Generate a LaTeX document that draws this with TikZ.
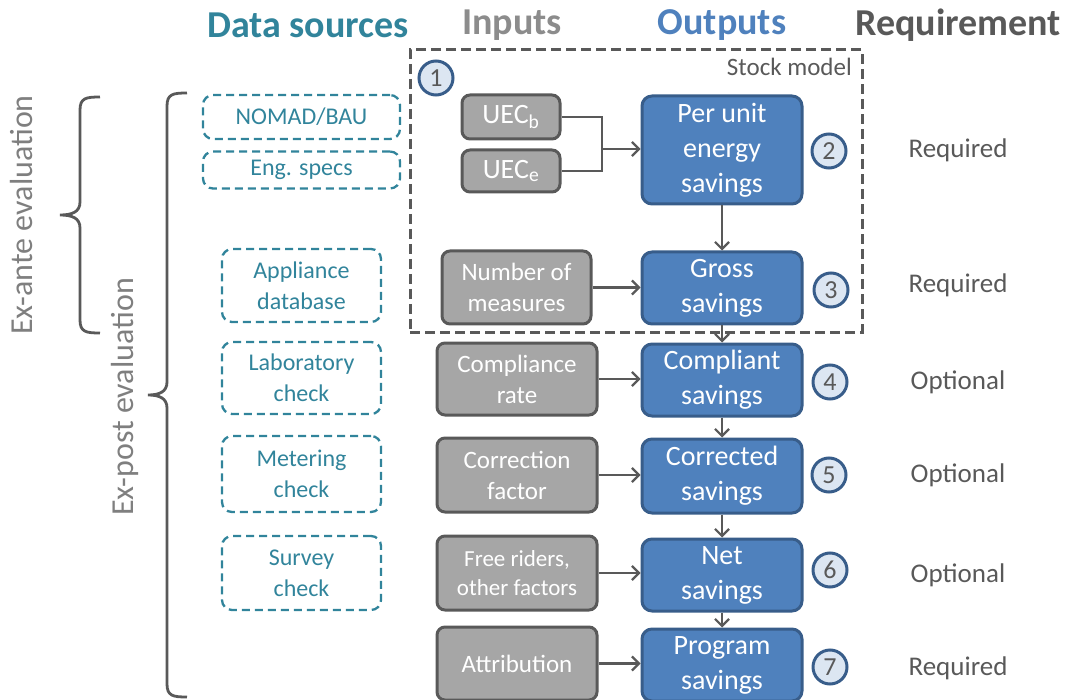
\documentclass[tikz,border=0pt]{standalone}
\usepackage{fontspec}
\setmainfont{Carlito}
\usetikzlibrary{arrows.meta}
\definecolor{teal1}{HTML}{31849B}
\definecolor{blue1}{HTML}{4F81BD}
\definecolor{blueb}{HTML}{385D8A}
\definecolor{grayf}{HTML}{A6A6A6}
\definecolor{grayd}{HTML}{595959}
\definecolor{grayt}{HTML}{7F7F7F}
\definecolor{grayh}{HTML}{8C8C8C}
\definecolor{circf}{HTML}{DCE6F2}
\newcommand{\fs}[2]{\fontsize{#1}{#2}\selectfont}
\tikzset{
  gbox/.style={draw=grayd, fill=grayf, line width=3pt, rounded corners=8pt, text=white, align=center, inner sep=2pt, font=\fs{25}{31}},
  bbox/.style={draw=blueb, fill=blue1, line width=3pt, rounded corners=10pt, text=white, align=center, inner sep=2pt, minimum width=160pt, font=\fs{28}{35}},
  dsbox/.style={draw=teal1, dash pattern=on 8pt off 5pt, line width=2.3pt, rounded corners=10pt, text=teal1, align=center, inner sep=2pt, font=\fs{24}{31}},
  numc/.style={circle, draw=blueb, fill=circf, line width=3pt, minimum size=34pt, inner sep=0pt, text=grayd, font=\fs{26}{26}},
  req/.style={text=grayd, font=\fs{27}{30}},
  hdr/.style={font=\bfseries\fs{38}{42}},
  arr/.style={draw=grayd, line width=2.2pt, -{Straight Barb[length=7pt,width=14pt,line width=2.2pt]}},
  ln/.style={draw=grayd, line width=2.2pt},
  brace/.style={draw=grayd, line width=2.8pt},
  side/.style={text=grayt, rotate=90, font=\fs{32}{36}}
}
\begin{document}
\begin{tikzpicture}[x=1pt,y=-1pt]
\useasboundingbox (0,0) rectangle (1070,700);
% headers
\node[hdr, text=teal1] (h1) at (308,25) {Data sources};
\node[hdr, text=grayh] (h2) at (512,25) {Inputs};
\node[hdr, text=blue1] (h3) at (722,25) {Outputs};
\node[hdr, text=grayd] (h4) at (958,25) {Requirement};
% stock model
\node[draw=grayd, line width=3pt, dash pattern=on 10pt off 5pt, minimum width=452pt, minimum height=282pt, inner sep=0pt] (stock) at (636,191) {};
\node[anchor=east, text=grayd, font=\fs{25}{27}, inner sep=0pt] (stocklbl) at (852,67) {Stock model};
% data sources
\node[dsbox, minimum width=197pt, minimum height=44pt] (nomad) at (301.5,117) {NOMAD/BAU};
\node[dsbox, minimum width=197pt, minimum height=37pt] (eng) at (301.5,170) {Eng. specs};
\node[dsbox, minimum width=159pt, minimum height=73pt] (appl) at (301.5,285.5) {Appliance\\database};
\node[dsbox, minimum width=159pt, minimum height=72pt] (lab) at (301.5,378) {Laboratory\\check};
\node[dsbox, minimum width=159pt, minimum height=76pt] (meter) at (301.5,474) {Metering\\check};
\node[dsbox, minimum width=159pt, minimum height=74pt] (survey) at (301.5,573) {Survey\\check};
% inputs
\node[gbox, minimum width=98pt, minimum height=44pt, font=\fs{28}{31}] (uecb) at (511,117) {UEC\textsubscript{b}};
\node[gbox, minimum width=98pt, minimum height=42pt, font=\fs{28}{31}] (uece) at (511,171) {UEC\textsubscript{e}};
\node[gbox, minimum width=149pt, minimum height=73pt] (num) at (516.5,287.5) {Number of\\measures};
\node[gbox, minimum width=160pt, minimum height=72pt] (comp) at (517,379) {Compliance\\rate};
\node[gbox, minimum width=160pt, minimum height=74pt] (corr) at (517,475) {Correction\\factor};
\node[gbox, minimum width=160pt, minimum height=74pt, font=\fs{23}{29}] (free) at (517,573) {Free riders,\\other factors};
\node[gbox, minimum width=160pt, minimum height=73pt] (attr) at (517,663.5) {Attribution};
% outputs
\node[bbox, minimum height=108pt] (perunit) at (722,150) {Per unit\\energy\\savings};
\node[bbox, minimum height=72pt] (gross) at (722,288) {Gross\\savings};
\node[bbox, minimum height=72pt] (compl) at (722,380) {Compliant\\savings};
\node[bbox, minimum height=74pt] (corrs) at (722,476) {Corrected\\savings};
\node[bbox, minimum height=72pt] (net) at (722,575) {Net\\savings};
\node[bbox, minimum height=72pt] (prog) at (722,665) {Program\\savings};
% numbers
\node[numc] (c1) at (436,78) {1};
\node[numc] (c2) at (829,151) {2};
\node[numc] (c3) at (831,290) {3};
\node[numc] (c4) at (830,382) {4};
\node[numc] (c5) at (829,475) {5};
\node[numc] (c6) at (830,570) {6};
\node[numc] (c7) at (830,667) {7};
% requirements
\node[req] (r2) at (958,150) {Required};
\node[req] (r3) at (958,285) {Required};
\node[req] (r4) at (958,382) {Optional};
\node[req] (r5) at (958,475) {Optional};
\node[req] (r6) at (958,575) {Optional};
\node[req] (r7) at (958,668) {Required};
% connectors
\coordinate (j) at (602,149);
\draw[ln] (uecb.east) -| (j) |- (uece.east);
\draw[arr] (j) -- (j -| perunit.west);
\draw[arr] (perunit) -- (gross);
\draw[arr] (gross) -- (compl);
\draw[arr] (compl) -- (corrs);
\draw[arr] (corrs) -- (net);
\draw[arr] (net) -- (prog);
\draw[arr] (num.east) -- (num.east -| gross.west);
\draw[arr] (comp.east) -- (comp.east -| compl.west);
\draw[arr] (corr.east) -- (corr.east -| corrs.west);
\draw[arr] (free.east) -- (free.east -| net.west);
\draw[arr] (attr.east) -- (attr.east -| prog.west);
% braces
\draw[brace] (100,97) .. controls (86,97) and (80,98) .. (80,110) -- (80,202) .. controls (80,212) and (72,215) .. (60,215) .. controls (72,215) and (80,218) .. (80,228) -- (80,320) .. controls (80,332) and (86,333) .. (100,333);
\draw[brace] (187,93) .. controls (173,93) and (167,94) .. (167,106) -- (167,382) .. controls (167,392) and (159,395) .. (148,395) .. controls (159,395) and (167,398) .. (167,408) -- (167,684) .. controls (167,696) and (173,697) .. (187,697);
\node[side] (exante) at (22,215) {Ex-ante evaluation};
\node[side] (expost) at (125,397) {Ex-post evaluation};
\end{tikzpicture}
\end{document}
